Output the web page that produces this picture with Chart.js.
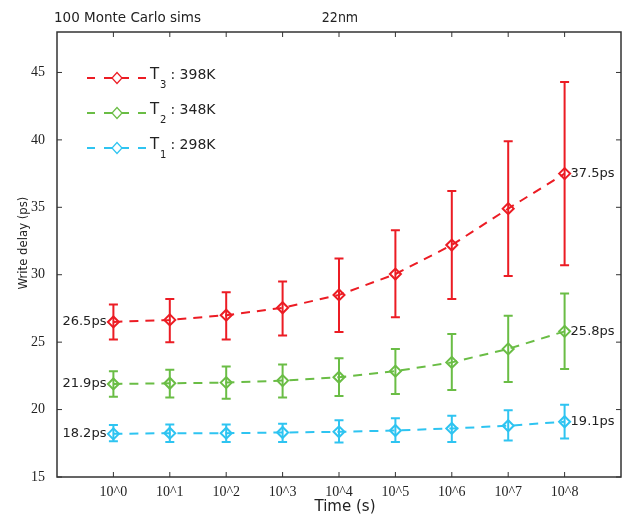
<!DOCTYPE html>
<html>
<head>
<meta charset="utf-8">
<script src="https://cdn.jsdelivr.net/npm/chart.js@4.4.1/dist/chart.umd.min.js"></script>
<style>
  html, body { margin: 0; padding: 0; background: #fff; }
  #wrap { width: 632px; height: 520px; }
</style>
</head>
<body>
<div id="wrap"><canvas id="chart" width="632" height="520"></canvas></div>
<script>
// x positions 1..9 stand for 10^0 .. 10^8 seconds
const timeLabels = ['10^0', '10^1', '10^2', '10^3', '10^4', '10^5', '10^6', '10^7', '10^8'];
const yTicks = [15, 20, 25, 30, 35, 40, 45];

// T3 : 398K
const t3Mean = [26.5, 26.65, 27.0, 27.55, 28.5, 30.05, 32.2, 34.9, 37.5];
const t3High = [27.8, 28.2, 28.7, 29.5, 31.2, 33.3, 36.2, 39.9, 44.3];
const t3Low = [25.2, 25.0, 25.2, 25.5, 25.75, 26.85, 28.2, 29.9, 30.7];
// T2 : 348K
const t2Mean = [21.9, 21.95, 22.0, 22.15, 22.4, 22.85, 23.5, 24.5, 25.8];
const t2High = [22.85, 22.95, 23.2, 23.35, 23.8, 24.5, 25.6, 26.95, 28.6];
const t2Low = [20.95, 20.9, 20.8, 20.9, 21.0, 21.15, 21.45, 22.05, 23.0];
// T1 : 298K
const t1Mean = [18.2, 18.25, 18.25, 18.3, 18.35, 18.45, 18.6, 18.8, 19.1];
const t1High = [18.85, 18.9, 18.9, 18.95, 19.2, 19.35, 19.55, 19.95, 20.35];
const t1Low = [17.65, 17.6, 17.6, 17.6, 17.55, 17.6, 17.6, 17.7, 17.85];

const RED = '#ec1c24', GREEN = '#6abd45', BLUE = '#2ec4f1';

const series = [
  { name: 'T', sub: '3', rest: ' : 398K', color: RED, mean: t3Mean, hi: t3High, lo: t3Low },
  { name: 'T', sub: '2', rest: ' : 348K', color: GREEN, mean: t2Mean, hi: t2High, lo: t2Low },
  { name: 'T', sub: '1', rest: ' : 298K', color: BLUE, mean: t1Mean, hi: t1High, lo: t1Low }
];

const toPoints = arr => arr.map((v, i) => ({ x: i + 1, y: v }));

const datasets = series.map(s => ({
  label: s.name + s.sub + s.rest,
  data: toPoints(s.mean),
  borderColor: s.color,
  borderWidth: 2,
  borderDash: [9, 7],
  pointStyle: 'rectRot',
  pointRadius: 5.5,
  pointBorderWidth: 2,
  pointBackgroundColor: 'rgba(0,0,0,0)',
  pointBorderColor: s.color,
  fill: false,
  tension: 0
}));

const sans = '"DejaVu Sans", sans-serif';
const serif = '"Liberation Serif", "DejaVu Serif", serif';

const decor = {
  id: 'decor',
  afterDatasetsDraw(chart) {
    const ctx = chart.ctx;
    const xs = chart.scales.x, ys = chart.scales.y;
    const a = chart.chartArea;
    ctx.save();
    // error bars
    series.forEach(s => {
      ctx.strokeStyle = s.color;
      ctx.lineWidth = 2;
      ctx.setLineDash([]);
      s.mean.forEach((v, i) => {
        const px = xs.getPixelForValue(i + 1);
        const top = ys.getPixelForValue(s.hi[i]);
        const bot = ys.getPixelForValue(s.lo[i]);
        ctx.beginPath();
        ctx.moveTo(px, top); ctx.lineTo(px, bot);
        ctx.moveTo(px - 4.5, top); ctx.lineTo(px + 4.5, top);
        ctx.moveTo(px - 4.5, bot); ctx.lineTo(px + 4.5, bot);
        ctx.stroke();
      });
    });
    // value labels at both ends
    ctx.fillStyle = '#222';
    ctx.font = '13px ' + sans;
    ctx.textBaseline = 'middle';
    series.forEach(s => {
      const first = s.mean[0], last = s.mean[s.mean.length - 1];
      ctx.textAlign = 'right';
      ctx.fillText(first.toFixed(1) + 'ps', xs.getPixelForValue(1) - 7, ys.getPixelForValue(first));
      ctx.textAlign = 'left';
      ctx.fillText(last.toFixed(1) + 'ps', xs.getPixelForValue(9) + 6, ys.getPixelForValue(last));
    });
    // frame
    ctx.strokeStyle = '#333';
    ctx.lineWidth = 1.5;
    ctx.strokeRect(a.left, a.top, a.right - a.left, a.bottom - a.top);
    // inward ticks
    ctx.lineWidth = 1;
    ctx.beginPath();
    xs.ticks.forEach(t => {
      const px = xs.getPixelForValue(t.value);
      ctx.moveTo(px, a.bottom); ctx.lineTo(px, a.bottom - 5);
      ctx.moveTo(px, a.top); ctx.lineTo(px, a.top + 5);
    });
    ys.ticks.forEach(t => {
      const py = ys.getPixelForValue(t.value);
      ctx.moveTo(a.left, py); ctx.lineTo(a.left + 5, py);
      ctx.moveTo(a.right, py); ctx.lineTo(a.right - 5, py);
    });
    ctx.stroke();
    // legend
    series.forEach((s, k) => {
      const ly = 78 + k * 35;
      ctx.strokeStyle = s.color;
      ctx.lineWidth = 2;
      ctx.setLineDash([8, 9]);
      ctx.beginPath();
      ctx.moveTo(87, ly); ctx.lineTo(146, ly);
      ctx.stroke();
      ctx.setLineDash([]);
      ctx.beginPath();
      ctx.moveTo(106, ly); ctx.lineTo(127, ly);
      ctx.stroke();
      ctx.fillStyle = '#fff';
      ctx.beginPath();
      ctx.moveTo(117, ly - 5.5); ctx.lineTo(122, ly); ctx.lineTo(117, ly + 5.5); ctx.lineTo(112, ly);
      ctx.closePath();
      ctx.fill();
      ctx.lineWidth = 1.2;
      ctx.stroke();
      ctx.fillStyle = '#222';
      ctx.textAlign = 'left';
      ctx.textBaseline = 'middle';
      ctx.font = '15px ' + sans;
      ctx.fillText(s.name, 150, ly - 3);
      ctx.font = '10px ' + sans;
      ctx.fillText(s.sub, 160, ly + 7);
      ctx.font = '14px ' + sans;
      ctx.fillText(s.rest, 166, ly - 3);
    });
    // titles
    ctx.fillStyle = '#222';
    ctx.font = '13.5px ' + sans;
    ctx.textAlign = 'left';
    ctx.fillText('100 Monte Carlo sims', 54, 18);
    ctx.font = '14px "DejaVu Sans Condensed", ' + sans;
    ctx.textAlign = 'center';
    ctx.fillText('22nm', 340, 18);
    ctx.font = '15px ' + sans;
    ctx.fillText('Time (s)', 345, 507);
    ctx.save();
    ctx.translate(24, 243);
    ctx.rotate(-Math.PI / 2);
    ctx.font = '13px "DejaVu Sans Condensed", ' + sans;
    ctx.fillText('Write delay (ps)', 0, 0);
    ctx.restore();
    ctx.restore();
  }
};

new Chart(document.getElementById('chart'), {
  type: 'line',
  data: { datasets },
  options: {
    responsive: false,
    animation: false,
    layout: { padding: { left: 0, right: 11, top: 32, bottom: 0 } },
    plugins: { legend: { display: false }, tooltip: { enabled: false } },
    scales: {
      x: {
        type: 'linear',
        min: 0,
        max: 10,
        grid: { display: false },
        border: { display: false },
        afterBuildTicks: sc => { sc.ticks = sc.ticks.filter(t => t.value >= 1 && t.value <= 9); },
        afterFit: sc => { sc.height = 43; },
        ticks: {
          stepSize: 1,
          autoSkip: false,
          maxRotation: 0,
          padding: -1,
          color: '#222',
          font: { family: serif, size: 14 },
          callback: v => timeLabels[v - 1] || ''
        }
      },
      y: {
        type: 'linear',
        min: 15,
        max: 48,
        grid: { display: false },
        border: { display: false },
        afterBuildTicks: sc => { sc.ticks = yTicks.map(v => ({ value: v })); },
        afterFit: sc => { sc.width = 57; },
        ticks: {
          padding: 4,
          color: '#222',
          font: { family: serif, size: 14 }
        }
      }
    }
  },
  plugins: [decor]
});
</script>
</body>
</html>
